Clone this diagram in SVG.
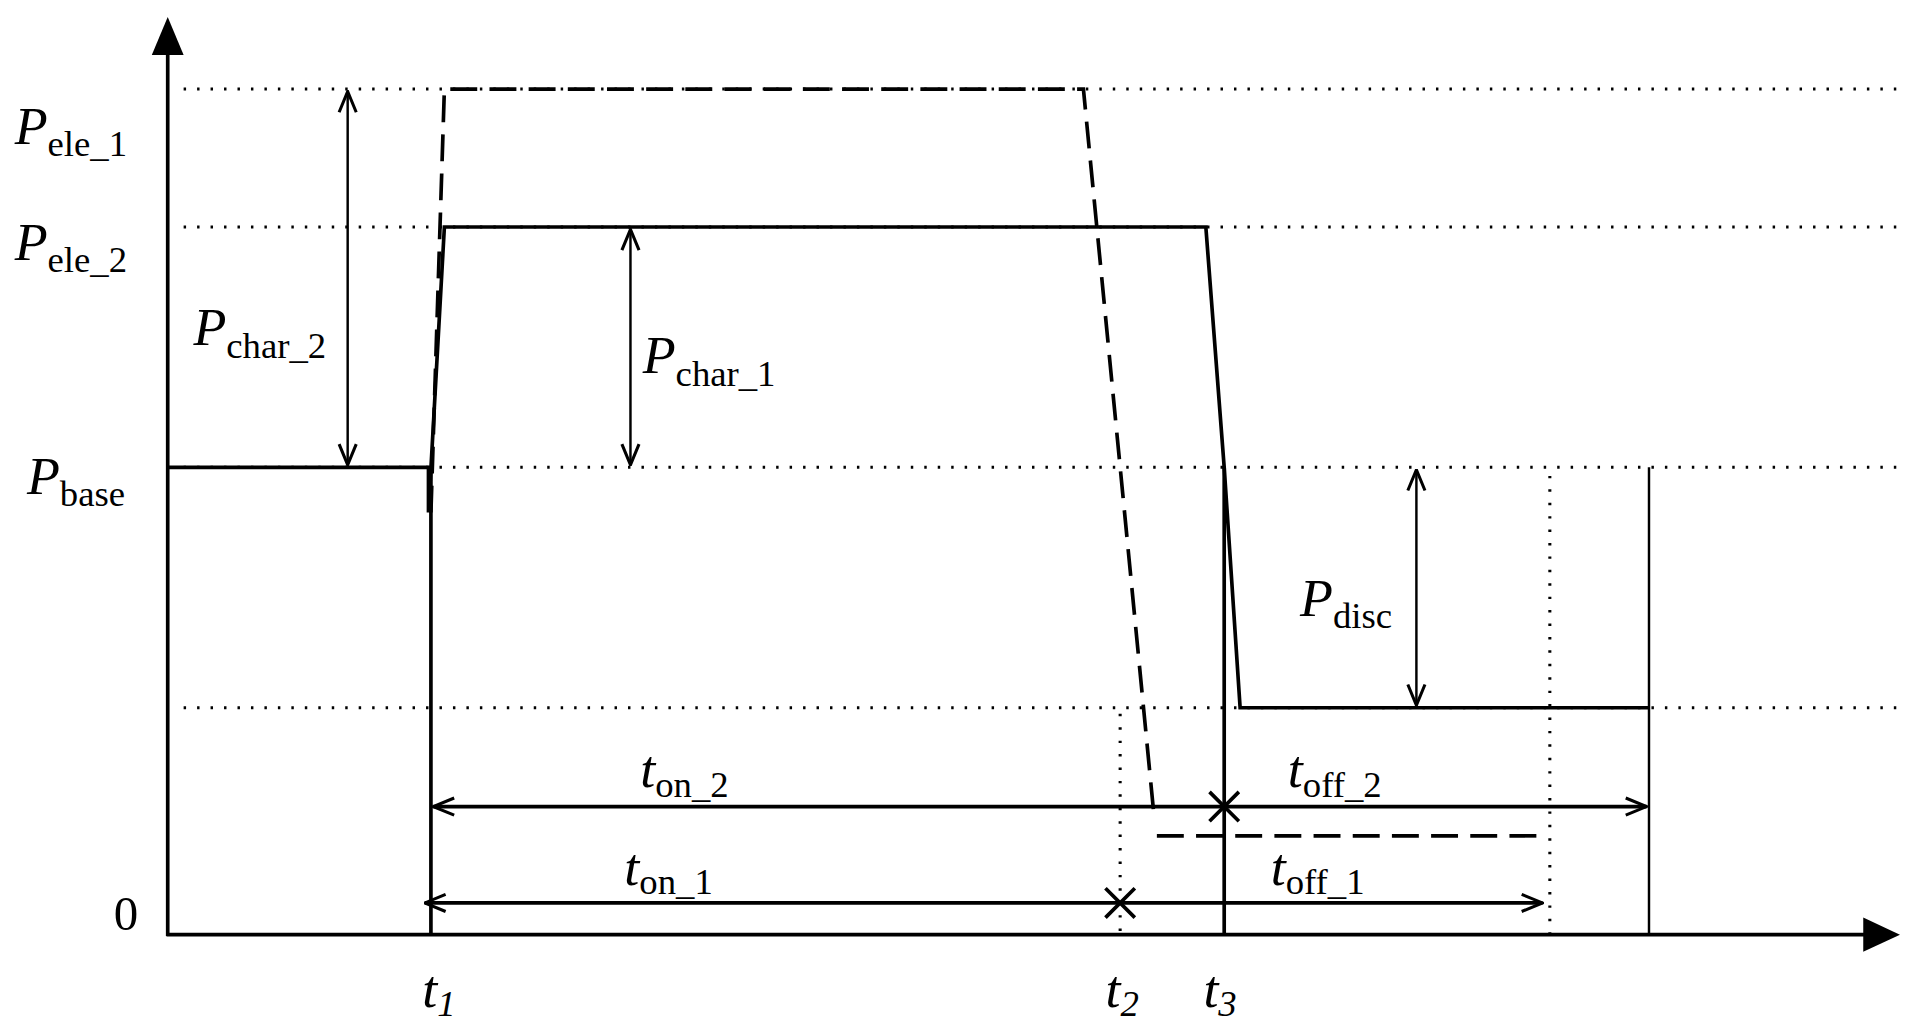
<svg xmlns="http://www.w3.org/2000/svg" width="1906" height="1025" viewBox="0 0 1906 1025">
<style>
.ax{stroke:#000;stroke-width:3;fill:none}
.sol{stroke:#000;stroke-width:3;fill:none}
.thin{stroke:#000;stroke-width:2;fill:none}
.dot{stroke:#000;stroke-width:2.5;stroke-dasharray:2 9;fill:none}
.dash{stroke:#000;stroke-width:3;stroke-dasharray:22 10;fill:none}
text{font-family:"Liberation Serif",serif;fill:#000}
.big{font-size:44px;font-style:italic}
.sub{font-size:30px;font-style:normal}
</style>
<defs>
<marker id="ah" viewBox="0 0 20 20" refX="19" refY="10" markerWidth="20" markerHeight="20" markerUnits="userSpaceOnUse" orient="auto-start-reverse">
<polyline points="2,3 19,10 2,17" fill="none" stroke="#000" stroke-width="2.5"/>
</marker>
</defs>
<rect width="1906" height="1025" fill="#fff"/>
<g transform="scale(1.2242 1.2202)">
<g id="axes">
<line class="ax" x1="137" y1="767" x2="137" y2="40"/>
<polygon points="124,45 150,45 137,14" fill="#000"/>
<line class="ax" x1="136" y1="766" x2="1525" y2="766"/>
<polygon points="1522,752 1522,780 1552,766" fill="#000"/>
</g>
<g id="gridlines">
<line class="dot" x1="150" y1="73" x2="1550" y2="73"/>
<line class="dot" x1="150" y1="186" x2="1550" y2="186"/>
<line class="dot" x1="150" y1="383" x2="1550" y2="383"/>
<line class="dot" x1="150" y1="580" x2="1550" y2="580"/>
<line class="dot" x1="915" y1="585" x2="915" y2="765"/>
<line class="dot" x1="1266" y1="390" x2="1266" y2="765"/>
</g>
<g id="curves">
<polyline class="sol" points="137,383 350,383 350,420 363,186 985,186 1000,383 1013,580 1347,580"/>
<line class="sol" x1="352" y1="383" x2="352" y2="766"/>
<line class="sol" x1="1000" y1="383" x2="1000" y2="766"/>
<line class="thin" x1="1347" y1="383" x2="1347" y2="766"/>
<polyline class="dash" points="352,420 363,73 885,73 943,672"/>
<line class="dash" x1="945" y1="685" x2="1265" y2="685"/>
</g>
<g id="connectors">
<line class="thin" x1="284" y1="75" x2="284" y2="381" marker-start="url(#ah)" marker-end="url(#ah)"/>
<line class="thin" x1="515" y1="188" x2="515" y2="381" marker-start="url(#ah)" marker-end="url(#ah)"/>
<line class="thin" x1="1157" y1="385" x2="1157" y2="578" marker-start="url(#ah)" marker-end="url(#ah)"/>
<line class="sol" x1="354" y1="661" x2="1000" y2="661" marker-start="url(#ah)"/>
<line class="sol" x1="1000" y1="661" x2="1345" y2="661" marker-end="url(#ah)"/>
<line class="sol" x1="347" y1="740" x2="915" y2="740" marker-start="url(#ah)"/>
<line class="sol" x1="915" y1="740" x2="1260" y2="740" marker-end="url(#ah)"/>
<path class="sol" d="M988,649 L1012,673 M1012,649 L988,673"/>
<path class="sol" d="M903,728 L927,752 M927,728 L903,752"/>
</g>
<g id="labels">
<text class="big" x="12" y="118">P<tspan class="sub" dy="10">ele_1</tspan></text>
<text class="big" x="12" y="213">P<tspan class="sub" dy="10">ele_2</tspan></text>
<text class="big" x="158" y="283">P<tspan class="sub" dy="10">char_2</tspan></text>
<text class="big" x="525" y="306">P<tspan class="sub" dy="10">char_1</tspan></text>
<text class="big" x="22" y="405">P<tspan class="sub" dy="10">base</tspan></text>
<text class="big" x="1062" y="505">P<tspan class="sub" dy="10">disc</tspan></text>
<text x="93" y="762" font-size="40">0</text>
<text class="big" x="345" y="825">t<tspan font-size="30" dy="8">1</tspan></text>
<text class="big" x="903" y="825">t<tspan font-size="30" dy="8">2</tspan></text>
<text class="big" x="983" y="825">t<tspan font-size="30" dy="8">3</tspan></text>
<text class="big" x="523" y="645">t<tspan class="sub" dy="8">on_2</tspan></text>
<text class="big" x="1052" y="645">t<tspan class="sub" dy="8">off_2</tspan></text>
<text class="big" x="510" y="725">t<tspan class="sub" dy="8">on_1</tspan></text>
<text class="big" x="1038" y="725">t<tspan class="sub" dy="8">off_1</tspan></text>
</g>
</g>
</svg>
